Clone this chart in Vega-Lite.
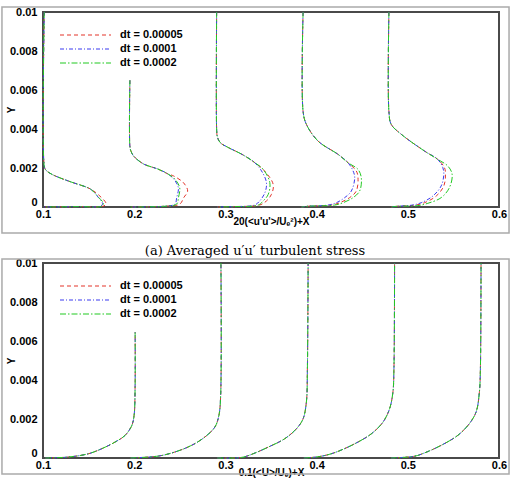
{
  "$schema": "https://vega.github.io/schema/vega-lite/v6.json",
  "autosize": {"type": "pad"},
  "padding": {"left": 0, "top": 5, "right": 0, "bottom": 0},
  "spacing": -3,
  "datasets": {
    "stress": [
      {"dt":"dt = 0.00005","p":1,"x":0.1014,"y":0.01},{"dt":"dt = 0.00005","p":1,"x":0.1014,"y":0.0021},{"dt":"dt = 0.00005","p":1,"x":0.103,"y":0.0019},{"dt":"dt = 0.00005","p":1,"x":0.11,"y":0.00167},{"dt":"dt = 0.00005","p":1,"x":0.128,"y":0.00133},{"dt":"dt = 0.00005","p":1,"x":0.15,"y":0.00097},
      {"dt":"dt = 0.00005","p":1,"x":0.1555,"y":0.00082},{"dt":"dt = 0.00005","p":1,"x":0.1624,"y":0.00056},{"dt":"dt = 0.00005","p":1,"x":0.1692,"y":0.00017},{"dt":"dt = 0.00005","p":1,"x":0.1664,"y":0.00005},{"dt":"dt = 0.00005","p":1,"x":0.14,"y":0.00002},{"dt":"dt = 0.00005","p":1,"x":0.101,"y":0},
      {"dt":"dt = 0.00005","p":2,"x":0.1953,"y":0.0065},{"dt":"dt = 0.00005","p":2,"x":0.1953,"y":0.0031},{"dt":"dt = 0.00005","p":2,"x":0.1964,"y":0.00287},{"dt":"dt = 0.00005","p":2,"x":0.1996,"y":0.0026},{"dt":"dt = 0.00005","p":2,"x":0.2105,"y":0.0022},{"dt":"dt = 0.00005","p":2,"x":0.2258,"y":0.00195},{"dt":"dt = 0.00005","p":2,"x":0.2368,"y":0.0017},
      {"dt":"dt = 0.00005","p":2,"x":0.2433,"y":0.00159},{"dt":"dt = 0.00005","p":2,"x":0.2543,"y":0.00123},{"dt":"dt = 0.00005","p":2,"x":0.2586,"y":0.00082},{"dt":"dt = 0.00005","p":2,"x":0.2543,"y":0.00048},{"dt":"dt = 0.00005","p":2,"x":0.25,"y":0.00015},{"dt":"dt = 0.00005","p":2,"x":0.2335,"y":0.00004},{"dt":"dt = 0.00005","p":2,"x":0.196,"y":0},
      {"dt":"dt = 0.00005","p":3,"x":0.2904,"y":0.01},{"dt":"dt = 0.00005","p":3,"x":0.2904,"y":0.004},{"dt":"dt = 0.00005","p":3,"x":0.2912,"y":0.0036},{"dt":"dt = 0.00005","p":3,"x":0.2944,"y":0.0033},{"dt":"dt = 0.00005","p":3,"x":0.3036,"y":0.00304},{"dt":"dt = 0.00005","p":3,"x":0.3182,"y":0.0027},{"dt":"dt = 0.00005","p":3,"x":0.3315,"y":0.0023},
      {"dt":"dt = 0.00005","p":3,"x":0.3429,"y":0.00185},{"dt":"dt = 0.00005","p":3,"x":0.3524,"y":0.00116},{"dt":"dt = 0.00005","p":3,"x":0.3505,"y":0.00065},{"dt":"dt = 0.00005","p":3,"x":0.345,"y":0.00031},{"dt":"dt = 0.00005","p":3,"x":0.3374,"y":0.0001},{"dt":"dt = 0.00005","p":3,"x":0.31,"y":0.00002},{"dt":"dt = 0.00005","p":3,"x":0.291,"y":0},
      {"dt":"dt = 0.00005","p":4,"x":0.3852,"y":0.01},{"dt":"dt = 0.00005","p":4,"x":0.3852,"y":0.0049},{"dt":"dt = 0.00005","p":4,"x":0.3888,"y":0.00424},{"dt":"dt = 0.00005","p":4,"x":0.4016,"y":0.00338},{"dt":"dt = 0.00005","p":4,"x":0.4235,"y":0.0027},{"dt":"dt = 0.00005","p":4,"x":0.4345,"y":0.00227},
      {"dt":"dt = 0.00005","p":4,"x":0.4435,"y":0.00185},{"dt":"dt = 0.00005","p":4,"x":0.4454,"y":0.0015},{"dt":"dt = 0.00005","p":4,"x":0.4435,"y":0.00082},{"dt":"dt = 0.00005","p":4,"x":0.4362,"y":0.00048},{"dt":"dt = 0.00005","p":4,"x":0.4253,"y":0.00022},{"dt":"dt = 0.00005","p":4,"x":0.4162,"y":0.0001},{"dt":"dt = 0.00005","p":4,"x":0.3907,"y":0.00004},{"dt":"dt = 0.00005","p":4,"x":0.3834,"y":0},
      {"dt":"dt = 0.00005","p":5,"x":0.4793,"y":0.01},{"dt":"dt = 0.00005","p":5,"x":0.4793,"y":0.0049},{"dt":"dt = 0.00005","p":5,"x":0.4818,"y":0.00424},{"dt":"dt = 0.00005","p":5,"x":0.4928,"y":0.00373},{"dt":"dt = 0.00005","p":5,"x":0.5183,"y":0.00287},{"dt":"dt = 0.00005","p":5,"x":0.5329,"y":0.00244},
      {"dt":"dt = 0.00005","p":5,"x":0.5402,"y":0.00202},{"dt":"dt = 0.00005","p":5,"x":0.5413,"y":0.00168},{"dt":"dt = 0.00005","p":5,"x":0.5395,"y":0.00108},{"dt":"dt = 0.00005","p":5,"x":0.5311,"y":0.00056},{"dt":"dt = 0.00005","p":5,"x":0.5183,"y":0.00022},{"dt":"dt = 0.00005","p":5,"x":0.5073,"y":0.00009},{"dt":"dt = 0.00005","p":5,"x":0.4892,"y":0.00004},{"dt":"dt = 0.00005","p":5,"x":0.4818,"y":0},

      {"dt":"dt = 0.0001","p":1,"x":0.1014,"y":0.01},{"dt":"dt = 0.0001","p":1,"x":0.1014,"y":0.0021},{"dt":"dt = 0.0001","p":1,"x":0.103,"y":0.0019},{"dt":"dt = 0.0001","p":1,"x":0.11,"y":0.00167},{"dt":"dt = 0.0001","p":1,"x":0.128,"y":0.00133},{"dt":"dt = 0.0001","p":1,"x":0.15,"y":0.00097},
      {"dt":"dt = 0.0001","p":1,"x":0.1547,"y":0.00082},{"dt":"dt = 0.0001","p":1,"x":0.1605,"y":0.0005},{"dt":"dt = 0.0001","p":1,"x":0.1653,"y":0.00018},{"dt":"dt = 0.0001","p":1,"x":0.1635,"y":0.00005},{"dt":"dt = 0.0001","p":1,"x":0.14,"y":0.00002},{"dt":"dt = 0.0001","p":1,"x":0.101,"y":0},
      {"dt":"dt = 0.0001","p":2,"x":0.1953,"y":0.0065},{"dt":"dt = 0.0001","p":2,"x":0.1953,"y":0.0031},{"dt":"dt = 0.0001","p":2,"x":0.1964,"y":0.00287},{"dt":"dt = 0.0001","p":2,"x":0.1996,"y":0.0026},{"dt":"dt = 0.0001","p":2,"x":0.2105,"y":0.0022},{"dt":"dt = 0.0001","p":2,"x":0.2258,"y":0.00195},{"dt":"dt = 0.0001","p":2,"x":0.2368,"y":0.0017},
      {"dt":"dt = 0.0001","p":2,"x":0.2433,"y":0.00144},{"dt":"dt = 0.0001","p":2,"x":0.2484,"y":0.00099},{"dt":"dt = 0.0001","p":2,"x":0.2466,"y":0.00048},{"dt":"dt = 0.0001","p":2,"x":0.2447,"y":0.00015},{"dt":"dt = 0.0001","p":2,"x":0.2335,"y":0.00004},{"dt":"dt = 0.0001","p":2,"x":0.196,"y":0},
      {"dt":"dt = 0.0001","p":3,"x":0.2904,"y":0.01},{"dt":"dt = 0.0001","p":3,"x":0.2904,"y":0.004},{"dt":"dt = 0.0001","p":3,"x":0.2912,"y":0.0036},{"dt":"dt = 0.0001","p":3,"x":0.2944,"y":0.0033},{"dt":"dt = 0.0001","p":3,"x":0.3036,"y":0.00304},{"dt":"dt = 0.0001","p":3,"x":0.3182,"y":0.0027},{"dt":"dt = 0.0001","p":3,"x":0.3315,"y":0.0023},
      {"dt":"dt = 0.0001","p":3,"x":0.3396,"y":0.00185},{"dt":"dt = 0.0001","p":3,"x":0.345,"y":0.00125},{"dt":"dt = 0.0001","p":3,"x":0.3433,"y":0.00073},{"dt":"dt = 0.0001","p":3,"x":0.3376,"y":0.00031},{"dt":"dt = 0.0001","p":3,"x":0.332,"y":0.0001},{"dt":"dt = 0.0001","p":3,"x":0.31,"y":0.00002},{"dt":"dt = 0.0001","p":3,"x":0.291,"y":0},
      {"dt":"dt = 0.0001","p":4,"x":0.3852,"y":0.01},{"dt":"dt = 0.0001","p":4,"x":0.3852,"y":0.0049},{"dt":"dt = 0.0001","p":4,"x":0.3888,"y":0.00424},{"dt":"dt = 0.0001","p":4,"x":0.4016,"y":0.00338},{"dt":"dt = 0.0001","p":4,"x":0.4235,"y":0.0027},{"dt":"dt = 0.0001","p":4,"x":0.4345,"y":0.00227},
      {"dt":"dt = 0.0001","p":4,"x":0.44,"y":0.00185},{"dt":"dt = 0.0001","p":4,"x":0.4418,"y":0.0015},{"dt":"dt = 0.0001","p":4,"x":0.4381,"y":0.00082},{"dt":"dt = 0.0001","p":4,"x":0.4308,"y":0.00048},{"dt":"dt = 0.0001","p":4,"x":0.4217,"y":0.00022},{"dt":"dt = 0.0001","p":4,"x":0.4126,"y":0.0001},{"dt":"dt = 0.0001","p":4,"x":0.3907,"y":0.00004},{"dt":"dt = 0.0001","p":4,"x":0.3834,"y":0},
      {"dt":"dt = 0.0001","p":5,"x":0.4793,"y":0.01},{"dt":"dt = 0.0001","p":5,"x":0.4793,"y":0.0049},{"dt":"dt = 0.0001","p":5,"x":0.4818,"y":0.00424},{"dt":"dt = 0.0001","p":5,"x":0.4928,"y":0.00373},{"dt":"dt = 0.0001","p":5,"x":0.5183,"y":0.00287},{"dt":"dt = 0.0001","p":5,"x":0.5329,"y":0.00244},
      {"dt":"dt = 0.0001","p":5,"x":0.5384,"y":0.00202},{"dt":"dt = 0.0001","p":5,"x":0.5395,"y":0.00168},{"dt":"dt = 0.0001","p":5,"x":0.5366,"y":0.00108},{"dt":"dt = 0.0001","p":5,"x":0.5274,"y":0.00056},{"dt":"dt = 0.0001","p":5,"x":0.5147,"y":0.00022},{"dt":"dt = 0.0001","p":5,"x":0.5037,"y":0.00009},{"dt":"dt = 0.0001","p":5,"x":0.4892,"y":0.00004},{"dt":"dt = 0.0001","p":5,"x":0.4818,"y":0},

      {"dt":"dt = 0.0002","p":1,"x":0.1014,"y":0.01},{"dt":"dt = 0.0002","p":1,"x":0.1014,"y":0.0021},{"dt":"dt = 0.0002","p":1,"x":0.103,"y":0.0019},{"dt":"dt = 0.0002","p":1,"x":0.11,"y":0.00167},{"dt":"dt = 0.0002","p":1,"x":0.128,"y":0.00133},{"dt":"dt = 0.0002","p":1,"x":0.15,"y":0.00097},
      {"dt":"dt = 0.0002","p":1,"x":0.1547,"y":0.00082},{"dt":"dt = 0.0002","p":1,"x":0.1612,"y":0.00048},{"dt":"dt = 0.0002","p":1,"x":0.1662,"y":0.0002},{"dt":"dt = 0.0002","p":1,"x":0.1645,"y":0.00005},{"dt":"dt = 0.0002","p":1,"x":0.14,"y":0.00002},{"dt":"dt = 0.0002","p":1,"x":0.101,"y":0},
      {"dt":"dt = 0.0002","p":2,"x":0.1953,"y":0.0065},{"dt":"dt = 0.0002","p":2,"x":0.1953,"y":0.0031},{"dt":"dt = 0.0002","p":2,"x":0.1964,"y":0.00287},{"dt":"dt = 0.0002","p":2,"x":0.1996,"y":0.0026},{"dt":"dt = 0.0002","p":2,"x":0.2105,"y":0.0022},{"dt":"dt = 0.0002","p":2,"x":0.2258,"y":0.00195},{"dt":"dt = 0.0002","p":2,"x":0.2368,"y":0.0017},
      {"dt":"dt = 0.0002","p":2,"x":0.2444,"y":0.00144},{"dt":"dt = 0.0002","p":2,"x":0.2499,"y":0.00099},{"dt":"dt = 0.0002","p":2,"x":0.2485,"y":0.00048},{"dt":"dt = 0.0002","p":2,"x":0.2466,"y":0.00015},{"dt":"dt = 0.0002","p":2,"x":0.2335,"y":0.00004},{"dt":"dt = 0.0002","p":2,"x":0.196,"y":0},
      {"dt":"dt = 0.0002","p":3,"x":0.2904,"y":0.01},{"dt":"dt = 0.0002","p":3,"x":0.2904,"y":0.004},{"dt":"dt = 0.0002","p":3,"x":0.2912,"y":0.0036},{"dt":"dt = 0.0002","p":3,"x":0.2944,"y":0.0033},{"dt":"dt = 0.0002","p":3,"x":0.3036,"y":0.00304},{"dt":"dt = 0.0002","p":3,"x":0.3182,"y":0.0027},{"dt":"dt = 0.0002","p":3,"x":0.3315,"y":0.0023},
      {"dt":"dt = 0.0002","p":3,"x":0.3414,"y":0.00193},{"dt":"dt = 0.0002","p":3,"x":0.3487,"y":0.00125},{"dt":"dt = 0.0002","p":3,"x":0.347,"y":0.00065},{"dt":"dt = 0.0002","p":3,"x":0.3414,"y":0.00031},{"dt":"dt = 0.0002","p":3,"x":0.336,"y":0.0001},{"dt":"dt = 0.0002","p":3,"x":0.31,"y":0.00002},{"dt":"dt = 0.0002","p":3,"x":0.291,"y":0},
      {"dt":"dt = 0.0002","p":4,"x":0.3852,"y":0.01},{"dt":"dt = 0.0002","p":4,"x":0.3852,"y":0.0049},{"dt":"dt = 0.0002","p":4,"x":0.3888,"y":0.00424},{"dt":"dt = 0.0002","p":4,"x":0.4016,"y":0.00338},{"dt":"dt = 0.0002","p":4,"x":0.4235,"y":0.0027},{"dt":"dt = 0.0002","p":4,"x":0.4345,"y":0.00227},
      {"dt":"dt = 0.0002","p":4,"x":0.4454,"y":0.00193},{"dt":"dt = 0.0002","p":4,"x":0.449,"y":0.0015},{"dt":"dt = 0.0002","p":4,"x":0.4472,"y":0.00082},{"dt":"dt = 0.0002","p":4,"x":0.44,"y":0.00048},{"dt":"dt = 0.0002","p":4,"x":0.429,"y":0.00022},{"dt":"dt = 0.0002","p":4,"x":0.4198,"y":0.0001},{"dt":"dt = 0.0002","p":4,"x":0.3907,"y":0.00004},{"dt":"dt = 0.0002","p":4,"x":0.3834,"y":0},
      {"dt":"dt = 0.0002","p":5,"x":0.4793,"y":0.01},{"dt":"dt = 0.0002","p":5,"x":0.4793,"y":0.0049},{"dt":"dt = 0.0002","p":5,"x":0.4818,"y":0.00424},{"dt":"dt = 0.0002","p":5,"x":0.4928,"y":0.00373},{"dt":"dt = 0.0002","p":5,"x":0.5183,"y":0.00287},{"dt":"dt = 0.0002","p":5,"x":0.5329,"y":0.00244},
      {"dt":"dt = 0.0002","p":5,"x":0.5439,"y":0.0021},{"dt":"dt = 0.0002","p":5,"x":0.5486,"y":0.00168},{"dt":"dt = 0.0002","p":5,"x":0.5456,"y":0.00099},{"dt":"dt = 0.0002","p":5,"x":0.5366,"y":0.00048},{"dt":"dt = 0.0002","p":5,"x":0.522,"y":0.00019},{"dt":"dt = 0.0002","p":5,"x":0.511,"y":0.00007},{"dt":"dt = 0.0002","p":5,"x":0.4892,"y":0.00004},{"dt":"dt = 0.0002","p":5,"x":0.4818,"y":0}
    ],
    "mean": [
      {"dt":"dt = 0.00005","p":1,"x":0.1025,"y":0},{"dt":"dt = 0.00005","p":1,"x":0.128,"y":0.00005},{"dt":"dt = 0.00005","p":1,"x":0.15,"y":0.00022},{"dt":"dt = 0.00005","p":1,"x":0.1646,"y":0.00048},{"dt":"dt = 0.00005","p":1,"x":0.1791,"y":0.00082},{"dt":"dt = 0.00005","p":1,"x":0.19,"y":0.00116},{"dt":"dt = 0.00005","p":1,"x":0.1974,"y":0.00167},{"dt":"dt = 0.00005","p":1,"x":0.1999,"y":0.00219},{"dt":"dt = 0.00005","p":1,"x":0.201,"y":0.00372},{"dt":"dt = 0.00005","p":1,"x":0.201,"y":0.00645},
      {"dt":"dt = 0.00005","p":2,"x":0.196,"y":0},{"dt":"dt = 0.00005","p":2,"x":0.2266,"y":0.0001},{"dt":"dt = 0.00005","p":2,"x":0.2448,"y":0.00031},{"dt":"dt = 0.00005","p":2,"x":0.263,"y":0.00065},{"dt":"dt = 0.00005","p":2,"x":0.2776,"y":0.00108},{"dt":"dt = 0.00005","p":2,"x":0.2885,"y":0.00159},{"dt":"dt = 0.00005","p":2,"x":0.2929,"y":0.00219},{"dt":"dt = 0.00005","p":2,"x":0.2948,"y":0.00321},{"dt":"dt = 0.00005","p":2,"x":0.2951,"y":0.01},
      {"dt":"dt = 0.00005","p":3,"x":0.291,"y":0},{"dt":"dt = 0.00005","p":3,"x":0.318,"y":0.00003},{"dt":"dt = 0.00005","p":3,"x":0.3305,"y":0.00022},{"dt":"dt = 0.00005","p":3,"x":0.347,"y":0.00056},{"dt":"dt = 0.00005","p":3,"x":0.3651,"y":0.00099},{"dt":"dt = 0.00005","p":3,"x":0.3779,"y":0.0015},{"dt":"dt = 0.00005","p":3,"x":0.3852,"y":0.00201},{"dt":"dt = 0.00005","p":3,"x":0.3888,"y":0.00287},{"dt":"dt = 0.00005","p":3,"x":0.3899,"y":0.00457},{"dt":"dt = 0.00005","p":3,"x":0.3907,"y":0.01},
      {"dt":"dt = 0.00005","p":4,"x":0.386,"y":0},{"dt":"dt = 0.00005","p":4,"x":0.3998,"y":0.00005},{"dt":"dt = 0.00005","p":4,"x":0.4126,"y":0.00017},{"dt":"dt = 0.00005","p":4,"x":0.4235,"y":0.00034},{"dt":"dt = 0.00005","p":4,"x":0.4418,"y":0.00073},{"dt":"dt = 0.00005","p":4,"x":0.46,"y":0.00124},{"dt":"dt = 0.00005","p":4,"x":0.4728,"y":0.00184},{"dt":"dt = 0.00005","p":4,"x":0.48,"y":0.00252},{"dt":"dt = 0.00005","p":4,"x":0.4837,"y":0.00338},{"dt":"dt = 0.00005","p":4,"x":0.4848,"y":0.00457},{"dt":"dt = 0.00005","p":4,"x":0.4855,"y":0.01},
      {"dt":"dt = 0.00005","p":5,"x":0.4815,"y":0},{"dt":"dt = 0.00005","p":5,"x":0.5073,"y":0.00009},{"dt":"dt = 0.00005","p":5,"x":0.5183,"y":0.00026},{"dt":"dt = 0.00005","p":5,"x":0.5366,"y":0.00065},{"dt":"dt = 0.00005","p":5,"x":0.5548,"y":0.00116},{"dt":"dt = 0.00005","p":5,"x":0.5675,"y":0.00176},{"dt":"dt = 0.00005","p":5,"x":0.5749,"y":0.00236},{"dt":"dt = 0.00005","p":5,"x":0.5785,"y":0.00338},{"dt":"dt = 0.00005","p":5,"x":0.5796,"y":0.00457},{"dt":"dt = 0.00005","p":5,"x":0.5803,"y":0.01},

      {"dt":"dt = 0.0001","p":1,"x":0.1025,"y":0},{"dt":"dt = 0.0001","p":1,"x":0.128,"y":0.00005},{"dt":"dt = 0.0001","p":1,"x":0.15,"y":0.00022},{"dt":"dt = 0.0001","p":1,"x":0.1646,"y":0.00048},{"dt":"dt = 0.0001","p":1,"x":0.1791,"y":0.00082},{"dt":"dt = 0.0001","p":1,"x":0.19,"y":0.00116},{"dt":"dt = 0.0001","p":1,"x":0.1974,"y":0.00167},{"dt":"dt = 0.0001","p":1,"x":0.1999,"y":0.00219},{"dt":"dt = 0.0001","p":1,"x":0.201,"y":0.00372},{"dt":"dt = 0.0001","p":1,"x":0.201,"y":0.00645},
      {"dt":"dt = 0.0001","p":2,"x":0.196,"y":0},{"dt":"dt = 0.0001","p":2,"x":0.2266,"y":0.0001},{"dt":"dt = 0.0001","p":2,"x":0.2448,"y":0.00031},{"dt":"dt = 0.0001","p":2,"x":0.263,"y":0.00065},{"dt":"dt = 0.0001","p":2,"x":0.2776,"y":0.00108},{"dt":"dt = 0.0001","p":2,"x":0.2885,"y":0.00159},{"dt":"dt = 0.0001","p":2,"x":0.2929,"y":0.00219},{"dt":"dt = 0.0001","p":2,"x":0.2948,"y":0.00321},{"dt":"dt = 0.0001","p":2,"x":0.2951,"y":0.01},
      {"dt":"dt = 0.0001","p":3,"x":0.291,"y":0},{"dt":"dt = 0.0001","p":3,"x":0.318,"y":0.00003},{"dt":"dt = 0.0001","p":3,"x":0.3305,"y":0.00022},{"dt":"dt = 0.0001","p":3,"x":0.347,"y":0.00056},{"dt":"dt = 0.0001","p":3,"x":0.3651,"y":0.00099},{"dt":"dt = 0.0001","p":3,"x":0.3779,"y":0.0015},{"dt":"dt = 0.0001","p":3,"x":0.3852,"y":0.00201},{"dt":"dt = 0.0001","p":3,"x":0.3888,"y":0.00287},{"dt":"dt = 0.0001","p":3,"x":0.3899,"y":0.00457},{"dt":"dt = 0.0001","p":3,"x":0.3907,"y":0.01},
      {"dt":"dt = 0.0001","p":4,"x":0.386,"y":0},{"dt":"dt = 0.0001","p":4,"x":0.3998,"y":0.00005},{"dt":"dt = 0.0001","p":4,"x":0.4126,"y":0.00017},{"dt":"dt = 0.0001","p":4,"x":0.4235,"y":0.00034},{"dt":"dt = 0.0001","p":4,"x":0.4418,"y":0.00073},{"dt":"dt = 0.0001","p":4,"x":0.46,"y":0.00124},{"dt":"dt = 0.0001","p":4,"x":0.4728,"y":0.00184},{"dt":"dt = 0.0001","p":4,"x":0.48,"y":0.00252},{"dt":"dt = 0.0001","p":4,"x":0.4837,"y":0.00338},{"dt":"dt = 0.0001","p":4,"x":0.4848,"y":0.00457},{"dt":"dt = 0.0001","p":4,"x":0.4855,"y":0.01},
      {"dt":"dt = 0.0001","p":5,"x":0.4815,"y":0},{"dt":"dt = 0.0001","p":5,"x":0.5073,"y":0.00009},{"dt":"dt = 0.0001","p":5,"x":0.5183,"y":0.00026},{"dt":"dt = 0.0001","p":5,"x":0.5366,"y":0.00065},{"dt":"dt = 0.0001","p":5,"x":0.5548,"y":0.00116},{"dt":"dt = 0.0001","p":5,"x":0.5675,"y":0.00176},{"dt":"dt = 0.0001","p":5,"x":0.5749,"y":0.00236},{"dt":"dt = 0.0001","p":5,"x":0.5785,"y":0.00338},{"dt":"dt = 0.0001","p":5,"x":0.5796,"y":0.00457},{"dt":"dt = 0.0001","p":5,"x":0.5803,"y":0.01},

      {"dt":"dt = 0.0002","p":1,"x":0.1025,"y":0},{"dt":"dt = 0.0002","p":1,"x":0.128,"y":0.00005},{"dt":"dt = 0.0002","p":1,"x":0.15,"y":0.00022},{"dt":"dt = 0.0002","p":1,"x":0.1646,"y":0.00048},{"dt":"dt = 0.0002","p":1,"x":0.1791,"y":0.00082},{"dt":"dt = 0.0002","p":1,"x":0.19,"y":0.00116},{"dt":"dt = 0.0002","p":1,"x":0.1974,"y":0.00167},{"dt":"dt = 0.0002","p":1,"x":0.1999,"y":0.00219},{"dt":"dt = 0.0002","p":1,"x":0.201,"y":0.00372},{"dt":"dt = 0.0002","p":1,"x":0.201,"y":0.00645},
      {"dt":"dt = 0.0002","p":2,"x":0.196,"y":0},{"dt":"dt = 0.0002","p":2,"x":0.2266,"y":0.0001},{"dt":"dt = 0.0002","p":2,"x":0.2448,"y":0.00031},{"dt":"dt = 0.0002","p":2,"x":0.263,"y":0.00065},{"dt":"dt = 0.0002","p":2,"x":0.2776,"y":0.00108},{"dt":"dt = 0.0002","p":2,"x":0.2885,"y":0.00159},{"dt":"dt = 0.0002","p":2,"x":0.2929,"y":0.00219},{"dt":"dt = 0.0002","p":2,"x":0.2948,"y":0.00321},{"dt":"dt = 0.0002","p":2,"x":0.2951,"y":0.01},
      {"dt":"dt = 0.0002","p":3,"x":0.291,"y":0},{"dt":"dt = 0.0002","p":3,"x":0.318,"y":0.00003},{"dt":"dt = 0.0002","p":3,"x":0.3305,"y":0.00022},{"dt":"dt = 0.0002","p":3,"x":0.347,"y":0.00056},{"dt":"dt = 0.0002","p":3,"x":0.3651,"y":0.00099},{"dt":"dt = 0.0002","p":3,"x":0.3779,"y":0.0015},{"dt":"dt = 0.0002","p":3,"x":0.3852,"y":0.00201},{"dt":"dt = 0.0002","p":3,"x":0.3888,"y":0.00287},{"dt":"dt = 0.0002","p":3,"x":0.3899,"y":0.00457},{"dt":"dt = 0.0002","p":3,"x":0.3907,"y":0.01},
      {"dt":"dt = 0.0002","p":4,"x":0.386,"y":0},{"dt":"dt = 0.0002","p":4,"x":0.3998,"y":0.00005},{"dt":"dt = 0.0002","p":4,"x":0.4126,"y":0.00017},{"dt":"dt = 0.0002","p":4,"x":0.4235,"y":0.00034},{"dt":"dt = 0.0002","p":4,"x":0.4418,"y":0.00073},{"dt":"dt = 0.0002","p":4,"x":0.46,"y":0.00124},{"dt":"dt = 0.0002","p":4,"x":0.4728,"y":0.00184},{"dt":"dt = 0.0002","p":4,"x":0.48,"y":0.00252},{"dt":"dt = 0.0002","p":4,"x":0.4837,"y":0.00338},{"dt":"dt = 0.0002","p":4,"x":0.4848,"y":0.00457},{"dt":"dt = 0.0002","p":4,"x":0.4855,"y":0.01},
      {"dt":"dt = 0.0002","p":5,"x":0.4815,"y":0},{"dt":"dt = 0.0002","p":5,"x":0.5073,"y":0.00009},{"dt":"dt = 0.0002","p":5,"x":0.5183,"y":0.00026},{"dt":"dt = 0.0002","p":5,"x":0.5366,"y":0.00065},{"dt":"dt = 0.0002","p":5,"x":0.5548,"y":0.00116},{"dt":"dt = 0.0002","p":5,"x":0.5675,"y":0.00176},{"dt":"dt = 0.0002","p":5,"x":0.5749,"y":0.00236},{"dt":"dt = 0.0002","p":5,"x":0.5785,"y":0.00338},{"dt":"dt = 0.0002","p":5,"x":0.5796,"y":0.00457},{"dt":"dt = 0.0002","p":5,"x":0.5803,"y":0.01}
    ]
  },
  "vconcat": [
    {
      "width": 456,
      "height": 195,
      "title": {"text": "(a) Averaged u′u′ turbulent stress", "orient": "bottom", "anchor": "middle", "font": "DejaVu Serif", "fontSize": 13, "fontWeight": "normal", "color": "#000", "offset": 11, "dx": -16},
      "layer": [
        {
          "data": {"name": "stress"},
          "mark": {"type": "line", "strokeWidth": 1, "interpolate": "catmull-rom"},
          "encoding": {
            "x": {"field": "x", "type": "quantitative", "title": "20(<u'u'>/Uₑ²)+X", "scale": {"domain": [0.1, 0.6], "nice": false, "zero": false},
              "axis": {"titleY": 9, "labelOverlap": false, "labelBound": false, "values": [0.1,0.12,0.14,0.16,0.18,0.2,0.22,0.24,0.26,0.28,0.3,0.32,0.34,0.36,0.38,0.4,0.42,0.44,0.46,0.48,0.5,0.52,0.54,0.56,0.58,0.6], "labelExpr": "abs(datum.value*10-round(datum.value*10))<0.01 ? format(datum.value,'.1f') : ''", "labelPadding": 1,
                "encode": {"ticks": {"update": {"y2": {"signal": "abs(datum.value*10-round(datum.value*10))<0.01 ? -5 : -3"}}}}}},
            "y": {"field": "y", "type": "quantitative", "title": "Y", "scale": {"domain": [0, 0.01], "nice": false, "zero": false},
              "axis": {"titleX": -27, "titleY": 97.5, "labelOverlap": false, "labelBound": false, "labelBaseline": {"condition": {"test": "datum.value === 0", "value": "bottom"}, "value": "middle"}, "values": [0,0.0005,0.001,0.0015,0.002,0.0025,0.003,0.0035,0.004,0.0045,0.005,0.0055,0.006,0.0065,0.007,0.0075,0.008,0.0085,0.009,0.0095,0.01], "labelExpr": "abs(datum.value*500-round(datum.value*500))<0.01 ? (datum.value==0 ? '0' : format(datum.value,'.3~f')) : ''", "labelPadding": 6,
                "encode": {"ticks": {"update": {"x2": {"signal": "abs(datum.value*500-round(datum.value*500))<0.01 ? 5 : 3"}}}}}},
            "color": {"field": "dt", "type": "nominal", "scale": {"domain": ["dt = 0.00005", "dt = 0.0001", "dt = 0.0002"], "range": ["#e3342b", "#3b3bf0", "#22c922"]}},
            "strokeDash": {"field": "dt", "type": "nominal", "scale": {"domain": ["dt = 0.00005", "dt = 0.0001", "dt = 0.0002"], "range": [[4, 3], [4, 2, 1, 2], [6, 2, 1.5, 2]]}},
            "detail": {"field": "p", "type": "nominal"},
            "order": {"value": null}
          }
        },
        {
          "data": {"values": [{}]},
          "mark": {"type": "rect", "fill": "transparent", "stroke": "#aaaaaa", "strokeWidth": 1.5},
          "encoding": {
            "x": {"datum": 0.055, "type": "quantitative", "title": "20(<u'u'>/Uₑ²)+X", "scale": {"domain": [0.1, 0.6], "nice": false, "zero": false},
              "axis": {"titleY": 9, "labelOverlap": false, "labelBound": false, "values": [0.1,0.12,0.14,0.16,0.18,0.2,0.22,0.24,0.26,0.28,0.3,0.32,0.34,0.36,0.38,0.4,0.42,0.44,0.46,0.48,0.5,0.52,0.54,0.56,0.58,0.6], "labelExpr": "abs(datum.value*10-round(datum.value*10))<0.01 ? format(datum.value,'.1f') : ''", "labelPadding": 1,
                "encode": {"ticks": {"update": {"y2": {"signal": "abs(datum.value*10-round(datum.value*10))<0.01 ? -5 : -3"}}}}}},
            "x2": {"datum": 0.611},
            "y": {"datum": 0.010256, "type": "quantitative", "title": "Y", "scale": {"domain": [0, 0.01], "nice": false, "zero": false},
              "axis": {"titleX": -27, "titleY": 97.5, "labelOverlap": false, "labelBound": false, "labelBaseline": {"condition": {"test": "datum.value === 0", "value": "bottom"}, "value": "middle"}, "values": [0,0.0005,0.001,0.0015,0.002,0.0025,0.003,0.0035,0.004,0.0045,0.005,0.0055,0.006,0.0065,0.007,0.0075,0.008,0.0085,0.009,0.0095,0.01], "labelExpr": "abs(datum.value*500-round(datum.value*500))<0.01 ? (datum.value==0 ? '0' : format(datum.value,'.3~f')) : ''", "labelPadding": 6,
                "encode": {"ticks": {"update": {"x2": {"signal": "abs(datum.value*500-round(datum.value*500))<0.01 ? 5 : 3"}}}}}},
            "y2": {"datum": -0.001333}
          }
        }
      ]
    },
    {
      "width": 456,
      "height": 195,
      "layer": [
        {
          "data": {"name": "mean"},
          "mark": {"type": "line", "strokeWidth": 1, "interpolate": "catmull-rom"},
          "encoding": {
            "x": {"field": "x", "type": "quantitative", "title": "0.1(<U>/Uₑ)+X", "scale": {"domain": [0.1, 0.6], "nice": false, "zero": false},
              "axis": {"titleY": 9, "labelOverlap": false, "labelBound": false, "values": [0.1,0.12,0.14,0.16,0.18,0.2,0.22,0.24,0.26,0.28,0.3,0.32,0.34,0.36,0.38,0.4,0.42,0.44,0.46,0.48,0.5,0.52,0.54,0.56,0.58,0.6], "labelExpr": "abs(datum.value*10-round(datum.value*10))<0.01 ? format(datum.value,'.1f') : ''", "labelPadding": 1,
                "encode": {"ticks": {"update": {"y2": {"signal": "abs(datum.value*10-round(datum.value*10))<0.01 ? -5 : -3"}}}}}},
            "y": {"field": "y", "type": "quantitative", "title": "Y", "scale": {"domain": [0, 0.01], "nice": false, "zero": false},
              "axis": {"titleX": -27, "titleY": 97.5, "labelOverlap": false, "labelBound": false, "labelBaseline": {"condition": {"test": "datum.value === 0", "value": "bottom"}, "value": "middle"}, "values": [0,0.0005,0.001,0.0015,0.002,0.0025,0.003,0.0035,0.004,0.0045,0.005,0.0055,0.006,0.0065,0.007,0.0075,0.008,0.0085,0.009,0.0095,0.01], "labelExpr": "abs(datum.value*500-round(datum.value*500))<0.01 ? (datum.value==0 ? '0' : format(datum.value,'.3~f')) : ''", "labelPadding": 6,
                "encode": {"ticks": {"update": {"x2": {"signal": "abs(datum.value*500-round(datum.value*500))<0.01 ? 5 : 3"}}}}}},
            "color": {"field": "dt", "type": "nominal", "scale": {"domain": ["dt = 0.00005", "dt = 0.0001", "dt = 0.0002"], "range": ["#e3342b", "#3b3bf0", "#22c922"]}},
            "strokeDash": {"field": "dt", "type": "nominal", "scale": {"domain": ["dt = 0.00005", "dt = 0.0001", "dt = 0.0002"], "range": [[4, 3], [4, 2, 1, 2], [6, 2, 1.5, 2]]}},
            "detail": {"field": "p", "type": "nominal"},
            "order": {"value": null}
          }
        },
        {
          "data": {"values": [{}]},
          "mark": {"type": "rect", "fill": "transparent", "stroke": "#aaaaaa", "strokeWidth": 1.5},
          "encoding": {
            "x": {"datum": 0.055, "type": "quantitative", "title": "0.1(<U>/Uₑ)+X", "scale": {"domain": [0.1, 0.6], "nice": false, "zero": false},
              "axis": {"titleY": 9, "labelOverlap": false, "labelBound": false, "values": [0.1,0.12,0.14,0.16,0.18,0.2,0.22,0.24,0.26,0.28,0.3,0.32,0.34,0.36,0.38,0.4,0.42,0.44,0.46,0.48,0.5,0.52,0.54,0.56,0.58,0.6], "labelExpr": "abs(datum.value*10-round(datum.value*10))<0.01 ? format(datum.value,'.1f') : ''", "labelPadding": 1,
                "encode": {"ticks": {"update": {"y2": {"signal": "abs(datum.value*10-round(datum.value*10))<0.01 ? -5 : -3"}}}}}},
            "x2": {"datum": 0.611},
            "y": {"datum": 0.010205, "type": "quantitative", "title": "Y", "scale": {"domain": [0, 0.01], "nice": false, "zero": false},
              "axis": {"titleX": -27, "titleY": 97.5, "labelOverlap": false, "labelBound": false, "labelBaseline": {"condition": {"test": "datum.value === 0", "value": "bottom"}, "value": "middle"}, "values": [0,0.0005,0.001,0.0015,0.002,0.0025,0.003,0.0035,0.004,0.0045,0.005,0.0055,0.006,0.0065,0.007,0.0075,0.008,0.0085,0.009,0.0095,0.01], "labelExpr": "abs(datum.value*500-round(datum.value*500))<0.01 ? (datum.value==0 ? '0' : format(datum.value,'.3~f')) : ''", "labelPadding": 6,
                "encode": {"ticks": {"update": {"x2": {"signal": "abs(datum.value*500-round(datum.value*500))<0.01 ? 5 : 3"}}}}}},
            "y2": {"datum": -0.00082}
          }
        }
      ]
    }
  ],
  "resolve": {"scale": {"color": "independent", "strokeDash": "independent"}},
  "config": {
    "view": {"stroke": "#4a4a4a", "strokeWidth": 2},
    "axis": {"domain": false, "grid": false, "ticks": true, "tickSize": 0, "tickColor": "#4a4a4a", "tickWidth": 1, "labelOverlap": false, "labelFlush": false, "labelFont": "Liberation Sans", "labelFontWeight": "bold", "labelFontSize": 11, "labelColor": "#000", "titleFont": "Liberation Sans", "titleFontWeight": "bold", "titleFontSize": 10, "titleColor": "#000"},
    "legend": {"title": null, "orient": "none", "legendX": 16, "legendY": 16.5, "symbolType": "stroke", "symbolSize": 2601, "symbolStrokeWidth": 1.2, "clipHeight": 13, "rowPadding": 1, "labelOffset": 8, "labelFont": "Liberation Sans", "labelFontWeight": "bold", "labelFontSize": 11, "labelColor": "#000"}
  }
}
